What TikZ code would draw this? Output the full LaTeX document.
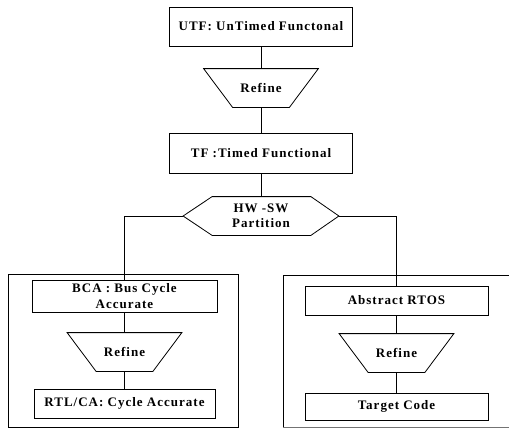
\documentclass[tikz,border=0pt]{standalone}
\usepackage{fontspec}
\setmainfont{Liberation Serif}[LetterSpace=7.7]
\usetikzlibrary{calc}
\begin{document}
\begin{tikzpicture}[x=1pt,y=-1pt,line width=0.8pt,
  lbl/.style={font=\fontsize{13}{15.5}\selectfont\bfseries,align=center,inner sep=0pt},
  box/.style={lbl,draw,rectangle},
  refbox/.style={lbl,minimum width=114pt,minimum height=38pt},
  hexbox/.style={lbl,minimum width=155pt,minimum height=38pt},
  frame/.style={draw,rectangle,inner sep=0pt}]
\useasboundingbox (0,0) rectangle (509,437);

% top chain
\node[box,minimum width=183pt,minimum height=39pt] (utf) at (261,26.5) {UTF: UnTimed Functonal};
\node[refbox] (r1) at (261,88) {Refine};
\node[box,minimum width=183pt,minimum height=40pt] (tf) at (261,153) {TF :Timed Functional};
\node[hexbox] (hw) at (261,216) {HW -SW\\Partition};

% left frame
\node[frame,minimum width=230pt,minimum height=153pt] (lframe) at (123,350.5) {};
\node[box,minimum width=185pt,minimum height=32pt] (bca) at (124.5,296) {BCA : Bus Cycle\\Accurate};
\node[refbox] (r2) at (124.5,352) {Refine};
\node[box,minimum width=181pt,minimum height=29pt] (rtl) at (124.5,403.5) {RTL/CA: Cycle Accurate};

% right frame (open on the right)
\coordinate (rf1) at (509,275);
\coordinate (rf2) at (283,275);
\coordinate (rf3) at (283,427);
\coordinate (rf4) at (509,427);
\draw (rf1) -- (rf2) -- (rf3);
\draw[black!55] (rf3) -- (rf4);
\node[box,minimum width=183pt,minimum height=29pt] (rtos) at (396.5,300.5) {Abstract RTOS};
\node[refbox] (r3) at (396.5,353) {Refine};
\node[box,minimum width=183pt,minimum height=27pt] (tc) at (396.5,406.5) {Target Code};

% trapezoids
\foreach \n in {r1,r2,r3}{
  \draw (\n.north west) -- (\n.north east) -- ([xshift=-29pt]\n.south east)
        -- ([xshift=29pt]\n.south west) -- cycle;
}
% hexagon
\draw (hw.west) -- ([xshift=29pt]hw.north west) -- ([xshift=-28pt]hw.north east)
      -- (hw.east) -- ([xshift=-28pt]hw.south east) -- ([xshift=29pt]hw.south west) -- cycle;

% connectors
\draw (utf.south) -- (r1.north);
\draw (r1.south) -- (tf.north);
\draw (tf.south) -- (hw.north);
\draw (hw.west) -| (bca.north);
\draw (hw.east) -| (rtos.north);
\draw (bca.south) -- (r2.north);
\draw (r2.south) -- (rtl.north);
\draw (rtos.south) -- (r3.north);
\draw (r3.south) -- (tc.north);
\end{tikzpicture}
\end{document}
